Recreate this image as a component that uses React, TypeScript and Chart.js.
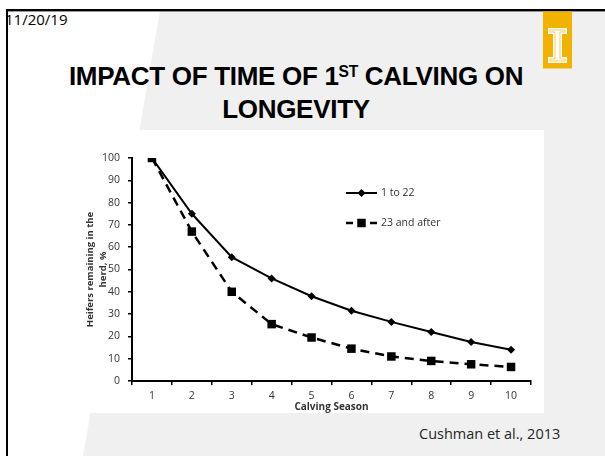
import React, { useEffect, useRef } from 'react';
import { Chart, registerables } from 'chart.js';

Chart.register(...registerables);

// ---- data ----
const categories = ['1', '2', '3', '4', '5', '6', '7', '8', '9', '10'];
const series1Label = '1 to 22';
const series1 = [100, 75, 55.5, 46, 38, 31.5, 26.5, 22, 17.5, 14];
const series2Label = '23 and after';
const series2 = [100, 67, 40, 25.5, 19.5, 14.5, 11, 9, 7.5, 6.3];
const yMin = 0;
const yMax = 100;
const yStep = 10;
const yTitle = ['Heifers remaining in the', 'herd, %'];
const xTitle = 'Calving Season';

const FONT = '"Open Sans", "Liberation Sans", sans-serif';
const LABEL_COLOR = '#333333';

const inlineLegend = {
  id: 'inlineLegend',
  afterDraw(chart: any) {
    const { ctx, chartArea } = chart;
    const x0 = chartArea.left + 214;
    const lineLen = 31;
    chart.data.datasets.forEach((ds: any, i: number) => {
      const y = chartArea.top + 35 + i * 30;
      ctx.save();
      ctx.strokeStyle = ds.borderColor;
      ctx.lineWidth = ds.borderWidth;
      if (ds.borderDash && ds.borderDash.length) {
        ctx.beginPath();
        ctx.moveTo(x0, y);
        ctx.lineTo(x0 + 7, y);
        ctx.moveTo(x0 + lineLen - 7, y);
        ctx.lineTo(x0 + lineLen, y);
        ctx.stroke();
      } else {
        ctx.beginPath();
        ctx.moveTo(x0, y);
        ctx.lineTo(x0 + lineLen, y);
        ctx.stroke();
      }
      ctx.fillStyle = ds.pointBackgroundColor;
      const cx = x0 + lineLen / 2;
      const r = ds.pointRadius;
      ctx.beginPath();
      if (ds.pointStyle === 'rect') {
        const s = Math.SQRT1_2 * r;
        ctx.rect(cx - s, y - s, 2 * s, 2 * s);
      } else {
        ctx.moveTo(cx - r, y);
        ctx.lineTo(cx, y - r);
        ctx.lineTo(cx + r, y);
        ctx.lineTo(cx, y + r);
        ctx.closePath();
      }
      ctx.fill();
      ctx.fillStyle = LABEL_COLOR;
      ctx.font = `10.5px ${FONT}`;
      ctx.textBaseline = 'middle';
      ctx.textAlign = 'left';
      ctx.fillText(ds.label, x0 + lineLen + 4, y);
      ctx.restore();
    });
  },
};

function LongevityChart() {
  const ref = useRef<HTMLCanvasElement | null>(null);
  useEffect(() => {
    if (!ref.current) return;
    const axisCommon = {
      grid: {
        display: true,
        drawOnChartArea: false,
        drawTicks: true,
        tickLength: 4,
        color: '#000',
        lineWidth: 1.5,
      },
      border: { display: true, color: '#000', width: 2 },
    };
    const chart = new Chart(ref.current, {
      type: 'line',
      data: {
        labels: categories,
        datasets: [
          {
            label: series1Label,
            data: series1,
            borderColor: '#000',
            backgroundColor: '#000',
            borderWidth: 2,
            pointStyle: 'rectRot',
            pointRadius: 4,
            pointBorderWidth: 0,
            pointBackgroundColor: '#000',
            tension: 0,
            fill: false,
          },
          {
            label: series2Label,
            data: series2,
            borderColor: '#000',
            backgroundColor: '#000',
            borderWidth: 2.5,
            borderDash: [9, 6],
            pointStyle: 'rect',
            pointRadius: 6,
            pointBorderWidth: 0,
            pointBackgroundColor: '#000',
            tension: 0,
            fill: false,
          },
        ],
      },
      options: {
        responsive: false,
        animation: false,
        layout: { padding: { left: 0, top: 28, right: 13, bottom: 0 } },
        plugins: { legend: { display: false }, tooltip: { enabled: false } },
        scales: {
          x: {
            type: 'category',
            offset: true,
            ...axisCommon,
            grid: { ...axisCommon.grid, offset: true },
            ticks: {
              color: LABEL_COLOR,
              font: { family: FONT, size: 10.5 },
              padding: 5,
              maxRotation: 0,
              autoSkip: false,
            },
            title: {
              display: true,
              text: xTitle,
              color: LABEL_COLOR,
              font: { family: FONT, size: 10, weight: 'bold', lineHeight: 1.2 },
              padding: { top: 0, bottom: 0 },
            },
            afterFit: (s: any) => {
              s.height = 32;
            },
          },
          y: {
            min: yMin,
            max: yMax,
            ...axisCommon,
            ticks: {
              stepSize: yStep,
              color: LABEL_COLOR,
              font: { family: FONT, size: 10.5 },
              padding: 8,
            },
            title: {
              display: true,
              text: yTitle,
              color: LABEL_COLOR,
              font: { family: FONT, size: 9.5, weight: 'bold', lineHeight: '13px' },
              padding: { top: 14, bottom: 0 },
            },
            afterFit: (s: any) => {
              s.width = 62;
            },
          },
        },
      },
      plugins: [inlineLegend],
    } as any);
    return () => chart.destroy();
  }, []);
  return <canvas ref={ref} width={474} height={283} style={{ display: 'block' }} />;
}

export default function App() {
  return (
    <div
      style={{
        position: 'fixed',
        left: 0,
        top: 0,
        width: 605,
        height: 456,
        background: '#fff',
        overflow: 'hidden',
        fontFamily: FONT,
      }}
    >
      <svg width={605} height={456} style={{ position: 'absolute', left: 0, top: 0 }}>
        <polygon points="160,11 605,11 605,456 83,456" fill="#f0f0f0" />
        <rect x={6} y={9} width={599} height={2.4} fill="#000" />
        <rect x={6} y={9} width={2} height={447} fill="#000" />
        <rect x={543} y={11.5} width={29} height={57} fill="#f2b300" />
        <polygon
          points="548,28 567,28 567,34 562,34 562,57 567,57 567,63 548,63 548,57 553,57 553,34 548,34"
          fill="#fff"
        />
        <polygon
          points="550,30 565,30 565,32 560,32 560,59 565,59 565,61 550,61 550,59 555,59 555,32 550,32"
          fill="#fff"
          stroke="#f5cf5a"
          strokeWidth={1}
        />
      </svg>
      <div
        style={{
          position: 'absolute',
          left: 5,
          top: 10,
          fontSize: 15,
          lineHeight: '18px',
          color: '#000',
        }}
      >
        11/20/19
      </div>
      <div
        style={{
          position: 'absolute',
          left: 0,
          top: 60,
          width: 592,
          textAlign: 'center',
          fontFamily: '"Liberation Sans", sans-serif',
          fontWeight: 'bold',
          fontSize: 26,
          lineHeight: '33px',
          color: '#000',
          letterSpacing: '-0.3px',
        }}
      >
        <div>
          IMPACT OF TIME OF 1
          <span style={{ fontSize: '0.6em', verticalAlign: '0.5em', lineHeight: 0 }}>ST</span> CALVING ON
        </div>
        <div>LONGEVITY</div>
      </div>
      <div
        style={{
          position: 'absolute',
          left: 70,
          top: 130,
          width: 474,
          height: 283,
          background: '#fff',
        }}
      >
        <LongevityChart />
      </div>
      <div
        style={{
          position: 'absolute',
          left: 419,
          top: 425,
          fontSize: 14.5,
          lineHeight: '18px',
          color: '#262626',
          whiteSpace: 'nowrap',
        }}
      >
        Cushman et al., 2013
      </div>
    </div>
  );
}
